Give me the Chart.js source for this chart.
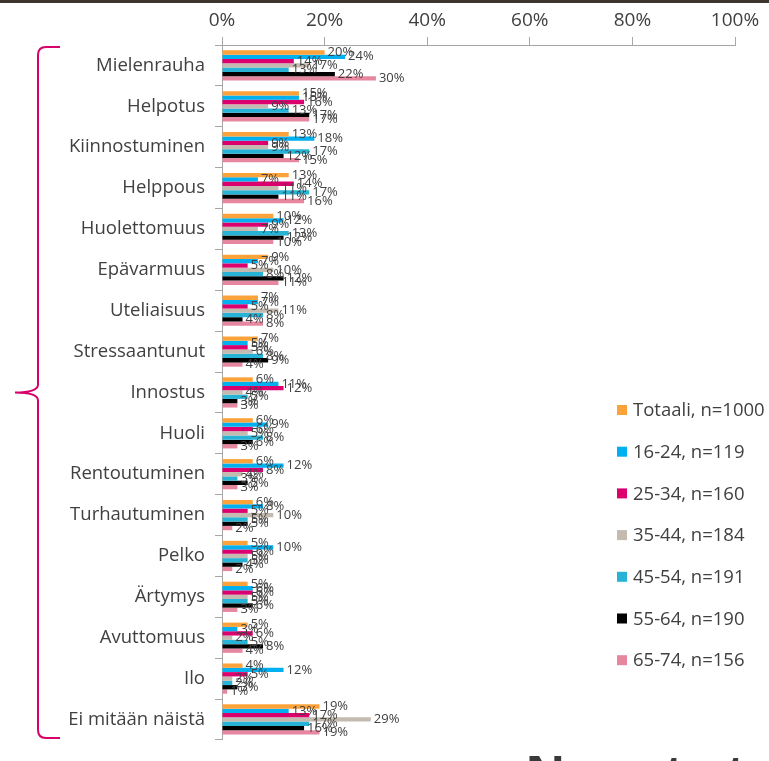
<!DOCTYPE html>
<html>
<head>
<meta charset="utf-8">
<script src="https://cdn.jsdelivr.net/npm/chart.js@4.4.1/dist/chart.umd.min.js"></script>
<style>
  body { margin: 0; background: #fff; }
  #wrap { position: relative; width: 769px; height: 761px; overflow: hidden; }
  #topline { position: absolute; left: 0; top: 0; width: 769px; height: 3px; background: #3d352e; }
</style>
</head>
<body>
<div id="wrap">
  <canvas id="chart"></canvas>
  <div id="topline"></div>
</div>
<script>
const categories = ['Mielenrauha', 'Helpotus', 'Kiinnostuminen', 'Helppous', 'Huolettomuus', 'Epävarmuus',
    'Uteliaisuus', 'Stressaantunut', 'Innostus', 'Huoli', 'Rentoutuminen', 'Turhautuminen',
    'Pelko', 'Ärtymys', 'Avuttomuus', 'Ilo', 'Ei mitään näistä'];

const seriesNames = ['Totaali, n=1000', '16-24, n=119', '25-34, n=160', '35-44, n=184',
    '45-54, n=191', '55-64, n=190', '65-74, n=156'];

const totaali = [20, 15, 13, 13, 10, 9, 7, 7, 6, 6, 6, 6, 5, 5, 5, 4, 19];
const age1624 = [24, 15, 18, 7, 12, 7, 7, 5, 11, 9, 12, 8, 10, 6, 3, 12, 13];
const age2534 = [14, 16, 9, 14, 9, 5, 5, 5, 12, 6, 8, 5, 6, 6, 6, 5, 17];
const age3544 = [17, 9, 9, 11, 7, 10, 11, 6, 4, 5, 4, 10, 5, 5, 2, 2, 29];
const age4554 = [13, 13, 17, 17, 13, 8, 8, 8, 5, 8, 3, 5, 5, 5, 5, 2, 17];
const age5564 = [22, 17, 12, 11, 12, 12, 4, 9, 3, 6, 5, 5, 4, 6, 8, 3, 16];
const age6574 = [30, 17, 15, 16, 10, 11, 8, 4, 3, 3, 3, 2, 2, 3, 4, 1, 19];

const xTicks = [0, 20, 40, 60, 80, 100];

const colors = ['#FBA33A', '#00B0F0', '#DC006F', '#C4BAB0', '#27B3D6', '#000000', '#E6879F'];
const allSeries = [totaali, age1624, age2534, age3544, age4554, age5564, age6574];

const textColor = '#404040';
const fontFamily = '"Open Sans", sans-serif';

// value labels at bar ends
const valueLabels = {
    id: 'valueLabels',
    afterDatasetsDraw(chart) {
        const ctx = chart.ctx;
        ctx.save();
        ctx.font = '13px ' + fontFamily;
        ctx.fillStyle = textColor;
        ctx.textBaseline = 'middle';
        chart.data.datasets.forEach((ds, i) => {
            chart.getDatasetMeta(i).data.forEach((bar, j) => {
                ctx.fillText(ds.data[j] + '%', bar.x + 3, bar.y);
            });
        });
        ctx.restore();
    }
};

// legend, brace and logo bits
const extras = {
    id: 'extras',
    afterDraw(chart) {
        const ctx = chart.ctx;
        ctx.save();
        // legend
        ctx.font = '18.5px ' + fontFamily;
        ctx.textBaseline = 'middle';
        chart.data.datasets.forEach((ds, i) => {
            const y = 410 + i * 41.7;
            ctx.fillStyle = ds.backgroundColor;
            ctx.fillRect(617, y - 5, 10, 10);
            ctx.fillStyle = textColor;
            ctx.fillText(ds.label, 633, y + 1);
        });
        // brace
        const top = chart.chartArea.top + 2, bot = chart.chartArea.bottom - 2;
        const mid = (top + bot) / 2;
        ctx.strokeStyle = '#D9006C';
        ctx.lineWidth = 2;
        ctx.beginPath();
        ctx.moveTo(60, top);
        ctx.lineTo(46, top);
        ctx.quadraticCurveTo(38, top, 38, top + 8);
        ctx.lineTo(38, mid - 8);
        ctx.quadraticCurveTo(38, mid, 15, mid);
        ctx.quadraticCurveTo(38, mid, 38, mid + 8);
        ctx.lineTo(38, bot - 8);
        ctx.quadraticCurveTo(38, bot, 46, bot);
        ctx.lineTo(60, bot);
        ctx.stroke();
        // logo, cut off at the bottom
        ctx.font = 'bold 50px "Open Sans", sans-serif';
        ctx.textBaseline = 'alphabetic';
        let x = 525;
        'Norstat'.split('').forEach((c, k) => {
            ctx.fillStyle = k === 2 ? '#F26A2E' : '#3a3a3a';
            ctx.fillText(c, x, 792);
            x += ctx.measureText(c).width + 5;
        });
        ctx.restore();
    }
};

new Chart(document.getElementById('chart'), {
    type: 'bar',
    data: {
        labels: categories,
        datasets: allSeries.map((d, i) => ({
            label: seriesNames[i],
            data: d,
            backgroundColor: colors[i],
            borderWidth: 0,
            barPercentage: 1,
            categoryPercentage: 0.74
        }))
    },
    options: {
        indexAxis: 'y',
        responsive: true,
        maintainAspectRatio: false,
        animation: false,
        layout: { padding: { left: 0, right: 34, top: 0, bottom: 2 } },
        plugins: {
            legend: { display: false },
            tooltip: { enabled: false }
        },
        scales: {
            x: {
                position: 'top',
                min: 0,
                max: 100,
                afterBuildTicks: (s) => { s.ticks = xTicks.map(v => ({ value: v })); },
                afterFit: (s) => { s.height = 45; },
                ticks: {
                    callback: (v) => v + '%',
                    color: textColor,
                    font: { family: fontFamily, size: 19 },
                    padding: 5,
                    maxRotation: 0
                },
                grid: { drawOnChartArea: false, tickLength: 8, color: '#A6A6A6' },
                border: { color: '#A6A6A6' }
            },
            y: {
                afterFit: (s) => { s.width = 222; },
                ticks: {
                    color: textColor,
                    font: { family: fontFamily, size: 18.5 },
                    padding: 10,
                    autoSkip: false
                },
                grid: { drawOnChartArea: false, tickLength: 7, color: '#A6A6A6', offset: true },
                border: { color: '#A6A6A6' }
            }
        }
    },
    plugins: [valueLabels, extras]
});
</script>
</body>
</html>
